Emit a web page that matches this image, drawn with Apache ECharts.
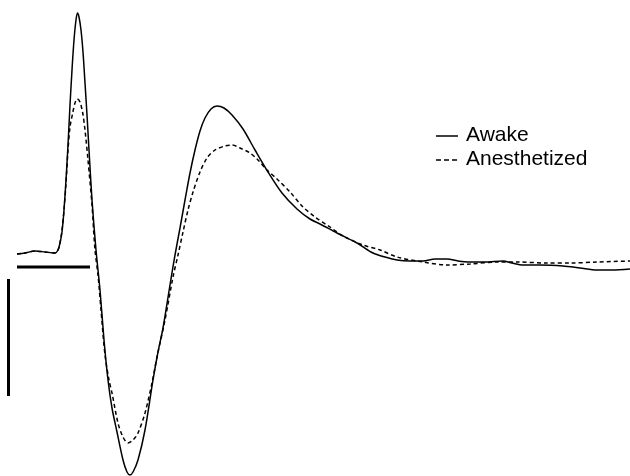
<!DOCTYPE html>
<html>
<head>
<meta charset="utf-8">
<script src="https://cdn.jsdelivr.net/npm/echarts@6/dist/echarts.min.js"></script>
<style>html,body{margin:0;padding:0;background:#fff;}#c{width:630px;height:476px;}</style>
</head>
<body>
<div id="c"></div>
<script>
// Awake trace: time (arbitrary units) and amplitude (arbitrary units)
var awakeTime = [17,25,35,45,55,58,60,62,64,66,68,70,72,74,76,77.5,79,81,83,85,87,89,92,96,100,104,108,112,117,123,127,130,133,138,145,153,158,163,170,175,180,185,190,195,200,205,211,217,224,232,243,255,268,282,297,310,320,337,357,373,385,397,410,423,435,447,458,470,485,503,512,523,540,563,580,597,612,630];
var awakeAmp = [-1,0,2,1,0,3,10,21,43,73,108,148,183,213,233,240,236,223,201,170,138,103,53,3,-37,-87,-127,-155,-179,-207,-219,-222,-219,-207,-177,-127,-99,-75,-32,-2,25,53,80,103,122,135,144,147,145,138,124,103,81,60,44,34,29,20,10,0,-4,-7,-8,-8,-6,-6,-8,-9,-9,-8,-10,-12,-12,-13,-15,-17,-17,-16];

// Anesthetized trace
var anesTime = [17,25,35,45,55,58,60,62,64,66,68,70,72.7,75,77.3,80,82.7,85,88,92,95,98,101,105,109,112,118,123,128,133,138,145,152,157,165,173,178,183,188,193,200,207,215,225,232,240,250,258,267,277,290,302,315,330,343,363,380,397,423,447,470,497,517,547,570,597,630];
var anesAmp = [-1,0,2,1,0,3,10,23,43,70,103,126,140,150,154,151,140,123,93,48,3,-22,-57,-102,-127,-140,-170,-184,-190,-187,-180,-160,-130,-104,-67,-24,-2,21,43,61,81,95,103,107,108,105,100,93,83,74,61,47,36,26,17,8,3,-4,-9,-12,-11,-9,-9,-10,-10,-9,-8];

// Scale bars
var hBarTime = [17,90];
var hBarAmp = [-14,-14];
var vBarTime = [8.5,8.5];
var vBarAmp = [-26,-143];

var legendNames = ['Awake','Anesthetized'];

function pairs(xs, ys){ return xs.map(function(x,i){ return [x, ys[i]]; }); }

var chart = echarts.init(document.getElementById('c'), null, {renderer:'canvas'});
chart.setOption({
  animation:false,
  backgroundColor:'#ffffff',
  grid:{left:0,right:0,top:0,bottom:0},
  xAxis:{type:'value',min:0,max:630,show:false},
  yAxis:{type:'value',min:-223,max:253,show:false},
  series:[
    {name:legendNames[1],type:'line',data:pairs(anesTime,anesAmp),showSymbol:false,smooth:0.3,
     lineStyle:{color:'#000',width:1.5,type:[4,3]}},
    {name:legendNames[0],type:'line',data:pairs(awakeTime,awakeAmp),showSymbol:false,smooth:0.3,
     lineStyle:{color:'#000',width:1.5}},
    {type:'line',data:pairs(hBarTime,hBarAmp),showSymbol:false,lineStyle:{color:'#000',width:3}},
    {type:'line',data:pairs(vBarTime,vBarAmp),showSymbol:false,lineStyle:{color:'#000',width:3}}
  ],
  graphic:[
    {type:'line',shape:{x1:436,y1:136,x2:458,y2:136},style:{stroke:'#000',lineWidth:1.5}},
    {type:'text',left:466,top:125,style:{text:legendNames[0],font:'21px "Liberation Sans", Arial, sans-serif',fill:'#000'}},
    {type:'line',shape:{x1:436,y1:160,x2:458,y2:160},style:{stroke:'#000',lineWidth:1.5,lineDash:[5,3]}},
    {type:'text',left:466,top:149,style:{text:legendNames[1],font:'21px "Liberation Sans", Arial, sans-serif',fill:'#000'}}
  ]
});
</script>
</body>
</html>
